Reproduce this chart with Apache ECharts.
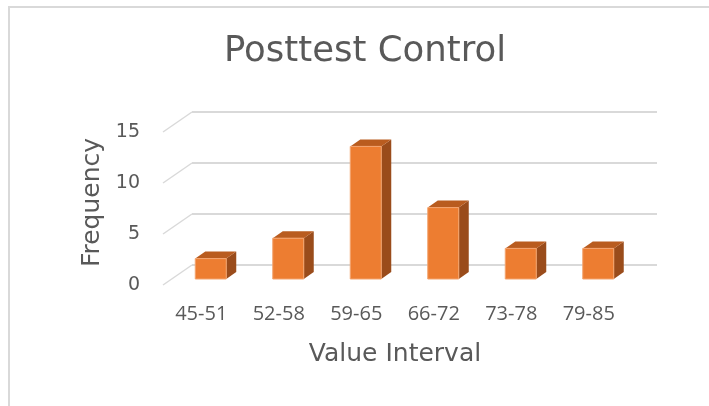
<!DOCTYPE html>
<html>
<head>
<meta charset="utf-8">
<script src="https://cdn.jsdelivr.net/npm/echarts@6/dist/echarts.min.js"></script>
<style>
html,body{margin:0;padding:0;background:#fff;}
#chart{width:709px;height:406px;}
</style>
</head>
<body>
<div id="chart"></div>
<script>
// ---- data ----
const categories = ['45-51', '52-58', '59-65', '66-72', '73-78', '79-85'];
const frequency = [2, 4, 13, 7, 3, 3];
const yTicks = [0, 5, 10, 15];
const chartTitle = 'Posttest Control';
const xTitle = 'Value Interval';
const yTitle = 'Frequency';

// ---- style constants ----
const TEXT = '#595959';
const GRID = '#D9D9D9';
const FRONT = '#ED7D31';
const TOPC = '#B95C1F';
const SIDE = '#9A4C1B';
const BAR_W = 31, DEPTH_X = 10, DEPTH_Y = -7;
const BACK_DX = 20, BACK_DY = -14, FRONT_DX = -9, FRONT_DY = 6;

const chart = echarts.init(document.getElementById('chart'));

chart.setOption({
  animation: false,
  backgroundColor: '#fff',
  graphic: [
    { type: 'rect', z: -10, shape: { x: 9, y: 7, width: 900, height: 600 },
      style: { fill: 'none', stroke: GRID, lineWidth: 2 } },
    { type: 'text', style: { text: chartTitle, x: 365, y: 52, align: 'center', verticalAlign: 'middle',
      fill: TEXT, font: '35.5px "DejaVu Sans"' } }
  ],
  grid: { left: 172, right: 72, top: 126, bottom: 127 },
  xAxis: {
    type: 'category', data: categories,
    axisLine: { show: false }, axisTick: { show: false }, splitLine: { show: false },
    axisLabel: { color: TEXT, fontFamily: 'Open Sans', fontSize: 20, margin: 25, padding: [0, 19, 0, 0] },
    name: xTitle, nameLocation: 'middle', nameGap: 63,
    nameTextStyle: { color: TEXT, fontFamily: 'DejaVu Sans', fontSize: 25, padding: [0, 19, 0, 0] }
  },
  yAxis: {
    type: 'value', min: 0, max: 15, interval: 5,
    axisLine: { show: false }, axisTick: { show: false }, splitLine: { show: false },
    axisLabel: { color: TEXT, fontFamily: 'DejaVu Sans', fontSize: 19, margin: 32,
      verticalAlign: 'top', lineHeight: 12 },
    name: yTitle, nameLocation: 'middle', nameGap: 66,
    nameTextStyle: { color: TEXT, fontFamily: 'DejaVu Sans', fontSize: 25 }
  },
  series: [
    {
      type: 'custom', z: 1, silent: true,
      data: yTicks.map(v => [0, v]),
      renderItem: function (params, api) {
        const rect = params.coordSys;
        const y = api.coord([0, api.value(1)])[1];
        return {
          type: 'group',
          children: [
            { type: 'line', shape: { x1: rect.x + FRONT_DX, y1: y + FRONT_DY, x2: rect.x + BACK_DX, y2: y + BACK_DY },
              style: { stroke: GRID, lineWidth: 1.5 } },
            { type: 'line', shape: { x1: rect.x + BACK_DX, y1: y + BACK_DY, x2: rect.x + rect.width + BACK_DX, y2: y + BACK_DY },
              style: { stroke: GRID, lineWidth: 2 } }
          ]
        };
      }
    },
    {
      type: 'custom', z: 2, clip: false,
      data: frequency.map((v, i) => [i, v]),
      renderItem: function (params, api) {
        const top = api.coord([api.value(0), api.value(1)]);
        const base = api.coord([api.value(0), 0]);
        const x0 = top[0] - BAR_W / 2, x1 = top[0] + BAR_W / 2;
        const ty = top[1], by = base[1];
        return {
          type: 'group',
          children: [
            { type: 'polygon', shape: { points: [[x1, ty], [x1 + DEPTH_X, ty + DEPTH_Y], [x1 + DEPTH_X, by + DEPTH_Y], [x1, by]] },
              style: { fill: SIDE } },
            { type: 'polygon', shape: { points: [[x0, ty], [x1, ty], [x1 + DEPTH_X, ty + DEPTH_Y], [x0 + DEPTH_X, ty + DEPTH_Y]] },
              style: { fill: TOPC } },
            { type: 'rect', shape: { x: x0, y: ty, width: BAR_W, height: by - ty },
              style: { fill: FRONT, stroke: '#F3A46F', lineWidth: 1 } }
          ]
        };
      }
    }
  ]
});
</script>
</body>
</html>
